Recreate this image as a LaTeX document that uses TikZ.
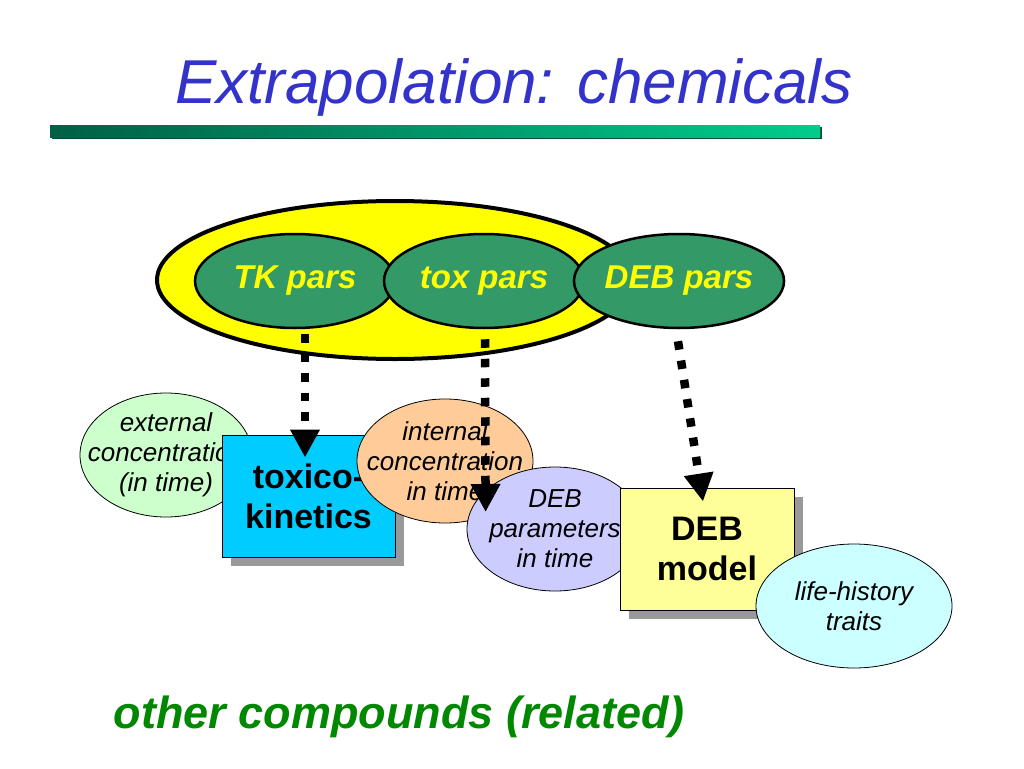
\documentclass[tikz,border=0pt]{standalone}
\usepackage{fontspec}
\setmainfont{Liberation Sans}
\usetikzlibrary{shapes.geometric,arrows.meta,shadows,calc}
\definecolor{titleblue}{RGB}{51,51,204}
\definecolor{bardark}{RGB}{0,96,70}
\definecolor{barlight}{RGB}{0,204,140}
\definecolor{pargreen}{RGB}{51,153,102}
\definecolor{grpyellow}{RGB}{255,255,0}
\definecolor{extgreen}{RGB}{204,255,204}
\definecolor{intorange}{RGB}{255,204,153}
\definecolor{debpurple}{RGB}{204,204,255}
\definecolor{lhcyan}{RGB}{204,255,255}
\definecolor{tkblue}{RGB}{0,204,255}
\definecolor{debyellow}{RGB}{255,255,153}
\definecolor{othergreen}{RGB}{0,136,0}
\tikzset{
  parnode/.style={ellipse, draw=black, line width=2.5pt, fill=pargreen, text=grpyellow,
    font=\bfseries\itshape\fontsize{33}{40}\selectfont, minimum height=94pt, inner sep=0pt},
  bubble/.style={ellipse, draw=black, line width=0.8pt, inner sep=0pt, minimum height=124pt},
  bubbletext/.style={align=center, inner sep=0pt, font=\itshape\fontsize{26}{30}\selectfont},
  modelbox/.style={rectangle, draw=black, line width=1pt, align=center,
    font=\bfseries\fontsize{34}{40}\selectfont, minimum width=173pt, minimum height=122pt,
    drop shadow={shadow xshift=9pt, shadow yshift=-9pt, fill=black!40, opacity=1}},
  darr/.style={line width=8.5pt, dash pattern=on 8.5pt off 11pt,
    -{Triangle[width=28pt,length=28pt]}}
}
\begin{document}
\begin{tikzpicture}[x=1pt,y=-1pt]
\fill[white] (0,0) rectangle (1024,768);
\useasboundingbox (0,0) rectangle (1024,768);
% title
\node[anchor=base, text=titleblue, font=\itshape\fontsize{62}{74}\selectfont] (title) at (514,103) {Extrapolation: chemicals};
% bar
\fill[bardark!80!black] (52,127) rectangle (822,139);
\shade[left color=bardark, right color=barlight] (50,125) rectangle (820,137);
% group ellipse
\node[ellipse, draw=black, line width=4pt, fill=grpyellow, minimum width=476pt, minimum height=158pt, inner sep=0pt] (grp) at (395,280) {};
\node[parnode, minimum width=200pt] (tk) at (295,281) {TK pars};
\node[parnode, minimum width=200pt] (tox) at (484,281) {tox pars};
\node[parnode, minimum width=208pt] (debp) at (679,281) {DEB pars};
% lower row
\node[bubble, fill=extgreen, minimum width=172pt, label={[bubbletext]center:external\\concentration\\(in time)}] (ext) at (166,455) {};
\node[modelbox, fill=tkblue] (tkbox) at (308.5,496) {toxico-\\kinetics};
\node[bubble, fill=intorange, minimum width=176pt, label={[bubbletext]center:internal\\concentration\\in time}] (int) at (445,461) {};
\node[bubble, fill=debpurple, minimum width=176pt, label={[bubbletext]center:DEB\\parameters\\in time}] (debt) at (555,529) {};
\node[modelbox, fill=debyellow, minimum width=174pt] (debbox) at (707,549) {DEB\\model};
\node[bubble, fill=lhcyan, minimum width=196pt, label={[bubbletext]center:life-history\\traits}] (lh) at (854,606) {};
% arrows
\draw[darr] ($(tk.south)+(10,5)$) -- ($(tkbox.north)+(-3.5,23)$);
\draw[darr] ($(tox.south)+(1,10)$) -- ($(debt.west)+(19,-17)$);
\draw[darr] ($(debp.south)+(-1,12)$) -- ($(debbox.north)+(-4,14)$);
% bottom text
\node[anchor=base, text=othergreen, font=\bfseries\itshape\fontsize{45}{54}\selectfont] (other) at (399,728) {other compounds (related)};
\end{tikzpicture}
\end{document}
